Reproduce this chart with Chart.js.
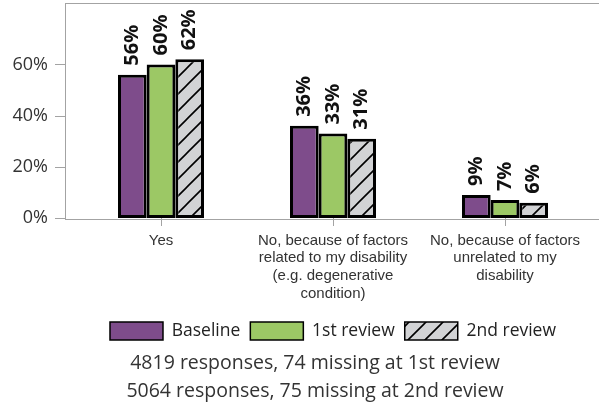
<!DOCTYPE html>
<html>
<head>
<meta charset="utf-8">
<script src="https://cdn.jsdelivr.net/npm/chart.js@4"></script>
<style>
  html, body { margin: 0; padding: 0; background: #fff; }
  #wrap { width: 599px; height: 412px; }
</style>
</head>
<body>
<div id="wrap"><canvas id="chart" width="599" height="412"></canvas></div>
<script>
// Data
const categories = [
  ['Yes'],
  ['No, because of factors', 'related to my disability', '(e.g. degenerative', 'condition)'],
  ['No, because of factors', 'unrelated to my', 'disability']
];
const seriesNames = ['Baseline', '1st review', '2nd review'];
const baseline = [56, 36, 9];
const firstReview = [60, 33, 7];
const secondReview = [62, 31, 6];
const yTicks = [0, 20, 40, 60];
const footnotes = [
  '4819 responses, 74 missing at 1st review',
  '5064 responses, 75 missing at 2nd review'
];

const PURPLE = '#7e4c8b';
const GREEN = '#9cc865';
const AXIS = '#a3a3a3';
const TEXT = '#333333';
const FONT = "'Open Sans', sans-serif";

// Diagonal hatch fill for 2nd review
function makeHatch() {
  const c = document.createElement('canvas');
  c.width = 17; c.height = 17;
  const g = c.getContext('2d');
  g.fillStyle = '#d2d3d5';
  g.fillRect(0, 0, 17, 17);
  g.strokeStyle = '#000';
  g.lineWidth = 1.6;
  g.beginPath();
  g.moveTo(-2, 19); g.lineTo(19, -2);
  g.moveTo(-19, 19); g.lineTo(2, -2);
  g.moveTo(15, 19); g.lineTo(36, -2);
  g.stroke();
  return g.createPattern(c, 'repeat');
}
const hatch = makeHatch();

// Frame, y ticks, value labels, footnotes
const extras = {
  id: 'extras',
  beforeDatasetsDraw(chart) {
    const { ctx, chartArea, scales } = chart;
    ctx.save();
    ctx.strokeStyle = AXIS;
    ctx.lineWidth = 1;
    ctx.beginPath();
    ctx.moveTo(65.5, chartArea.top);
    ctx.lineTo(65.5, chartArea.bottom + 1.5);
    ctx.moveTo(65, chartArea.top + 0.5);
    ctx.lineTo(chart.width, chartArea.top + 0.5);
    yTicks.forEach(v => {
      const y = Math.round(scales.y.getPixelForValue(v)) + 0.5;
      ctx.moveTo(55, y);
      ctx.lineTo(65, y);
    });
    ctx.stroke();
    ctx.restore();
  },
  afterDatasetsDraw(chart) {
    const { ctx, chartArea } = chart;
    ctx.save();
    ctx.strokeStyle = AXIS;
    ctx.lineWidth = 1;
    ctx.beginPath();
    ctx.moveTo(65, chartArea.bottom + 1.5);
    ctx.lineTo(chart.width, chartArea.bottom + 1.5);
    ctx.stroke();

    ctx.fillStyle = '#111';
    ctx.font = 'bold 20px ' + FONT;
    ctx.textAlign = 'left';
    ctx.textBaseline = 'middle';
    chart.data.datasets.forEach((ds, i) => {
      chart.getDatasetMeta(i).data.forEach((bar, j) => {
        ctx.save();
        ctx.translate(bar.x, bar.y - 9);
        ctx.rotate(-Math.PI / 2);
        ctx.fillText(ds.data[j] + '%', 0, 0);
        ctx.restore();
      });
    });

    ctx.fillStyle = TEXT;
    ctx.font = '19.5px ' + FONT;
    ctx.textAlign = 'center';
    footnotes.forEach((t, i) => {
      ctx.fillText(t, 315, 363 + i * 28);
    });
    ctx.restore();
  }
};

new Chart(document.getElementById('chart'), {
  type: 'bar',
  data: {
    labels: categories,
    datasets: [
      { label: seriesNames[0], data: baseline, backgroundColor: PURPLE },
      { label: seriesNames[1], data: firstReview, backgroundColor: GREEN },
      { label: seriesNames[2], data: secondReview, backgroundColor: hatch }
    ]
  },
  options: {
    responsive: false,
    animation: false,
    layout: { padding: { left: 0, right: 8, top: 3, bottom: 62 } },
    datasets: {
      bar: {
        borderColor: '#000',
        borderWidth: 3,
        borderSkipped: false,
        categoryPercentage: 0.5,
        barPercentage: 1.0
      }
    },
    scales: {
      y: {
        min: 0,
        max: 84,
        afterFit(scale) {
          scale.width = 75;
          scale.paddingTop = 0;
          scale.paddingBottom = 0;
        },
        afterBuildTicks(scale) { scale.ticks = yTicks.map(v => ({ value: v })); },
        grid: { display: false, drawTicks: true, tickLength: 27 },
        border: { display: false },
        ticks: {
          padding: 0,
          color: TEXT,
          font: { family: FONT, size: 18 },
          callback: v => v + '%'
        }
      },
      x: {
        afterFit(scale) {
          scale.height = 94;
          scale.paddingLeft = 0;
          scale.paddingRight = 0;
        },
        grid: { display: true, offset: false, drawOnChartArea: false, tickLength: 8, color: AXIS },
        border: { display: false },
        ticks: {
          padding: 6,
          maxRotation: 0,
          autoSkip: false,
          color: TEXT,
          font: { family: "'Liberation Sans', Arial, sans-serif", size: 15, lineHeight: 1.17 }
        }
      }
    },
    plugins: {
      tooltip: { enabled: false },
      legend: {
        position: 'bottom',
        fullSize: false,
        labels: {
          boxWidth: 53,
          boxHeight: 18,
          padding: 10,
          color: '#222',
          font: { family: FONT, size: 17.5 },
          generateLabels(chart) {
            return chart.data.datasets.map((ds, i) => ({
              text: ds.label,
              fillStyle: ds.backgroundColor,
              strokeStyle: '#000',
              lineWidth: 1.5,
              fontColor: '#222',
              hidden: false,
              datasetIndex: i
            }));
          }
        }
      }
    }
  },
  plugins: [extras]
});
</script>
</body>
</html>
